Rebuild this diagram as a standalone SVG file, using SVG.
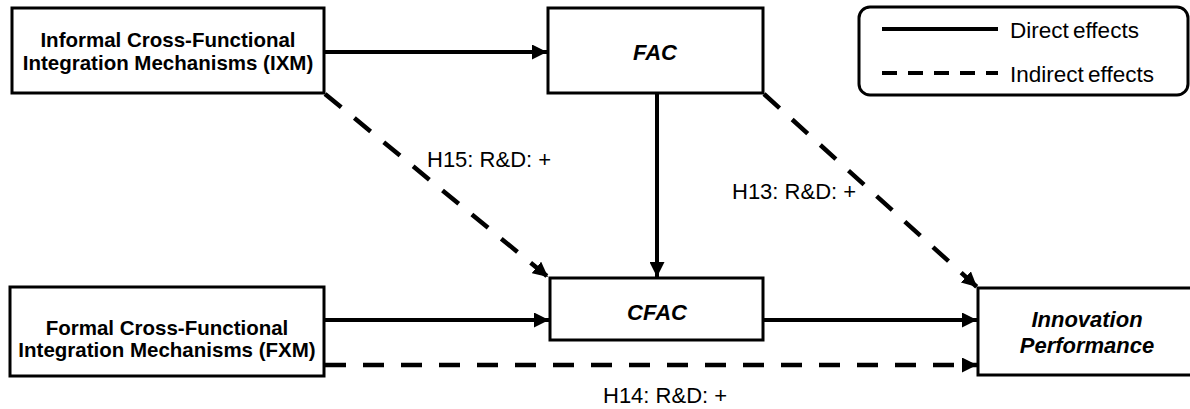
<svg xmlns="http://www.w3.org/2000/svg" width="1190" height="409" viewBox="0 0 1190 409">
<defs>
<style>
.box{fill:#fff;stroke:#000;stroke-width:3}
.b{font-family:"Liberation Sans",Arial,sans-serif;font-weight:bold;font-size:20.5px;fill:#000;text-anchor:middle}
.bi{font-family:"Liberation Sans",Arial,sans-serif;font-weight:bold;font-style:italic;font-size:22px;fill:#000;text-anchor:middle}
.r{font-family:"Liberation Sans",Arial,sans-serif;font-size:22px;fill:#000}
.lg{font-family:"Liberation Sans",Arial,sans-serif;font-size:22.5px;fill:#000;word-spacing:-2px}
.solid{stroke:#000;stroke-width:4;fill:none}
.dash{stroke:#000;stroke-width:4.5;fill:none;stroke-dasharray:21 17}
</style>
<marker id="ah" viewBox="0 0 15 15" refX="15" refY="7.5" markerWidth="15" markerHeight="15" markerUnits="userSpaceOnUse" orient="auto">
<path d="M0,0 L15,7.5 L0,15 Z" fill="#000"/>
</marker>
</defs>
<g id="connectors">
<line class="solid" x1="325" y1="52" x2="547" y2="52" marker-end="url(#ah)"/>
<line class="solid" x1="657" y1="94" x2="657" y2="277" marker-end="url(#ah)"/>
<line class="solid" x1="325" y1="320" x2="549" y2="320" marker-end="url(#ah)"/>
<line class="solid" x1="764" y1="320" x2="977" y2="320" marker-end="url(#ah)"/>
<line class="dash" x1="325" y1="94" x2="548" y2="277" marker-end="url(#ah)"/>
<line class="dash" x1="764" y1="94" x2="977" y2="287" marker-end="url(#ah)"/>
<line class="dash" x1="325" y1="365" x2="977" y2="365" marker-end="url(#ah)"/>
<text class="r" x="427" y="167">H15: R&amp;D: +</text>
<text class="r" x="732" y="199">H13: R&amp;D: +</text>
<text class="r" x="603" y="403">H14: R&amp;D: +</text>
</g>
<g id="ixm">
<rect class="box" x="12" y="8" width="312" height="85"/>
<text class="b" x="168" y="47">Informal Cross-Functional</text>
<text class="b" x="168" y="70">Integration Mechanisms (IXM)</text>
</g>
<g id="fxm">
<rect class="box" x="10" y="287" width="314" height="89"/>
<text class="b" x="167" y="335">Formal Cross-Functional</text>
<text class="b" x="167" y="357">Integration Mechanisms (FXM)</text>
</g>
<g id="fac">
<rect class="box" x="548" y="8" width="215" height="85"/>
<text class="bi" x="655" y="60">FAC</text>
</g>
<g id="cfac">
<rect class="box" x="550" y="278" width="213" height="62"/>
<text class="bi" x="657" y="320">CFAC</text>
</g>
<g id="innovation">
<rect class="box" x="978" y="288" width="230" height="87"/>
<text class="bi" x="1087" y="327">Innovation</text>
<text class="bi" x="1087" y="353">Performance</text>
</g>
<g id="legend">
<rect x="859" y="7" width="329" height="88" rx="11" ry="11" fill="#fff" stroke="#000" stroke-width="3"/>
<line x1="882" y1="29" x2="998" y2="29" stroke="#000" stroke-width="4"/>
<line x1="882" y1="73" x2="998" y2="73" stroke="#000" stroke-width="4" stroke-dasharray="15 11"/>
<text class="lg" x="1010" y="38">Direct effects</text>
<text class="lg" x="1010" y="82">Indirect effects</text>
</g>
</svg>
